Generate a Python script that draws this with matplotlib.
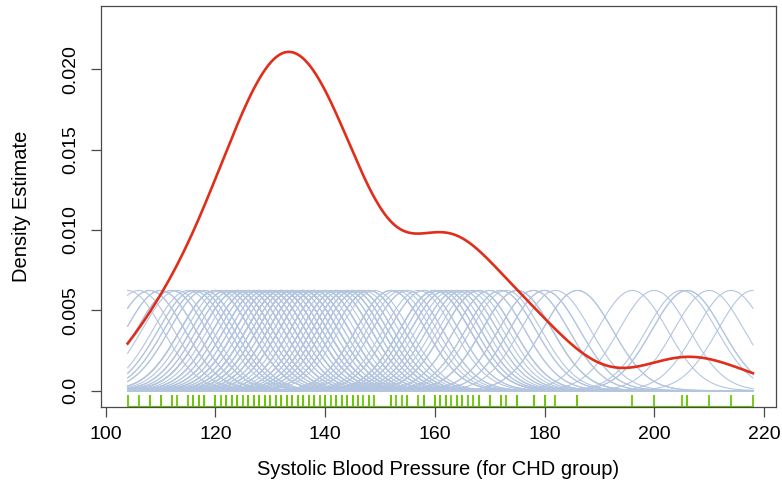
"""Kernel density estimate of systolic blood pressure (CHD group).

Each observation contributes a Gaussian bump (drawn scaled down by 10 so
they stay readable); the red curve is the average of those kernels.
"""

import matplotlib
matplotlib.use("Agg")
import matplotlib.pyplot as plt
import numpy as np

# ---------- data -----------------------------------------------------------
# distinct sbp readings seen on the rug, and how often each one occurs
SBP_VALUES = [104, 106, 108, 110, 112, 113, 115, 116, 117, 118,
              120, 121, 122, 123, 124, 125, 126, 127, 128, 129,
              130, 131, 132, 133, 134, 135, 136, 137, 138, 139,
              140, 141, 142, 143, 144, 145, 146, 147, 148, 149,
              152, 153, 154, 155, 157, 158, 160, 161, 162, 163,
              164, 165, 166, 167, 168, 170, 172, 173, 175, 178,
              180, 182, 186, 196, 200, 205, 206, 210, 214, 218]
SBP_COUNTS = [1, 1, 2, 2, 2, 1, 1, 2, 2, 2,
              4, 1, 3, 2, 5, 1, 4, 2, 4, 2,
              5, 2, 6, 3, 6, 2, 6, 2, 5, 1,
              4, 1, 4, 2, 4, 3, 3, 1, 3, 1,
              3, 1, 1, 2, 1, 2, 4, 2, 3, 1,
              2, 2, 1, 1, 3, 2, 2, 1, 3, 2,
              2, 1, 2, 1, 1, 1, 2, 1, 1, 1]

BANDWIDTH = 6.4        # Gaussian kernel sd
KERNEL_SCALE = 10.0    # bumps drawn 1/10 of the kernel height

X_TICKS = [100, 120, 140, 160, 180, 200, 220]
Y_TICKS = [0.0, 0.005, 0.010, 0.015, 0.020]
Y_TICK_LABELS = ["0.0", "0.005", "0.010", "0.015", "0.020"]

X_LABEL = "Systolic Blood Pressure (for CHD group)"
Y_LABEL = "Density Estimate"

RED = "#e02e1a"
BUMP = "#b4c6df"
GREEN = "#6cc70a"
FRAME = "#4a4a4a"


def gauss(x, mu, sd):
    return np.exp(-0.5 * ((x - mu) / sd) ** 2) / (np.sqrt(2 * np.pi) * sd)


def main():
    sbp = np.repeat(np.array(SBP_VALUES, float), SBP_COUNTS)
    grid = np.linspace(sbp.min(), sbp.max(), 500)
    kernels = gauss(grid[None, :], sbp[:, None], BANDWIDTH)
    density = kernels.mean(axis=0)

    plt.rcParams["font.family"] = ["Liberation Sans", "DejaVu Sans"]
    fig = plt.figure(figsize=(7.82, 4.88), dpi=100)
    ax = fig.add_axes([0.1292, 0.166, 0.8631, 0.8217])

    for k in kernels:
        ax.plot(grid, k / KERNEL_SCALE, color=BUMP, lw=0.8, zorder=1)
    ax.plot(grid, density, color=RED, lw=1.9, zorder=3)

    ax.set_xlim(99.15, 222.2)
    ax.set_ylim(-0.00102, 0.02394)

    # rug along the bottom edge, 3% of the plot height
    y0, y1 = ax.get_ylim()
    tick_top = y0 + 0.03 * (y1 - y0)
    ax.vlines(sbp, y0, tick_top, color=GREEN, lw=1.3, zorder=4)
    ax.hlines(y0, sbp.min(), sbp.max(), color=GREEN, lw=1.6, zorder=4)

    ax.set_xticks(X_TICKS)
    ax.set_yticks(Y_TICKS)
    ax.set_yticklabels(Y_TICK_LABELS, rotation=90, va="center")
    ax.tick_params(axis="both", length=7, width=0.9, color=FRAME,
                   labelsize=14)
    ax.tick_params(axis="x", pad=7)
    ax.tick_params(axis="y", pad=9)
    for s in ax.spines.values():
        s.set_color(FRAME)
        s.set_linewidth(0.9)
        s.set_zorder(5)

    ax.set_xlabel(X_LABEL, fontsize=14.5, labelpad=12)
    ax.set_ylabel(Y_LABEL, fontsize=14.5, labelpad=22)

    fig.savefig("out.png", dpi=100)
    plt.close(fig)


if __name__ == "__main__":
    main()
